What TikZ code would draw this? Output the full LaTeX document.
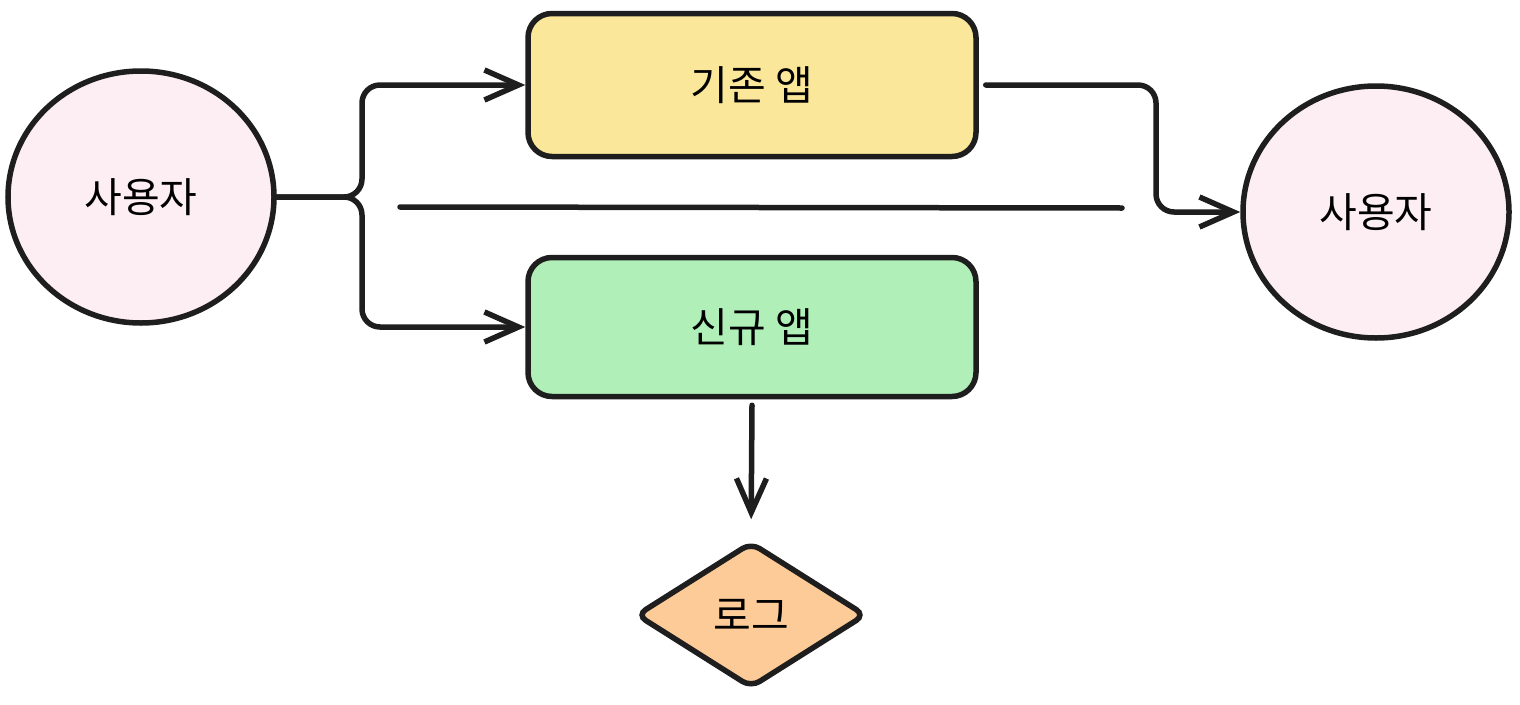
\documentclass[tikz,border=0pt]{standalone}
\usepackage{fontspec}
\setmainfont{Noto Sans CJK KR}
\usetikzlibrary{arrows.meta,shapes.geometric}
\definecolor{pinkfill}{HTML}{FDEEF4}
\definecolor{yellowfill}{HTML}{FBE79A}
\definecolor{greenfill}{HTML}{B0F0B8}
\definecolor{orangefill}{HTML}{FDCB98}
\definecolor{ink}{HTML}{1E1E1E}
\tikzset{
  lbl/.style={font=\fontsize{41}{48}\selectfont},
  user/.style={ellipse, draw=ink, line width=5.5pt, fill=pinkfill, minimum width=266pt, minimum height=252pt, inner sep=0pt, lbl},
  appbox/.style={rectangle, rounded corners=24pt, draw=ink, line width=5.5pt, minimum width=448pt, inner sep=0pt, lbl},
  logbox/.style={diamond, draw=ink, line width=5.5pt, fill=orangefill, minimum width=230pt, minimum height=146pt, inner sep=0pt, rounded corners=10pt, lbl},
  conn/.style={draw=ink, line width=5.5pt, line cap=round, rounded corners=18pt},
  arr/.style={conn, -{Straight Barb[length=34pt,width=30pt,line width=5.5pt]}},
}
\begin{document}
\begin{tikzpicture}[x=1pt,y=-1pt]
\useasboundingbox (0,0) rectangle (1520,704);
\node[user] (u1) at (141,197) {사용자};
\node[user] (u2) at (1376,212) {사용자};
\node[appbox, fill=yellowfill, minimum height=143pt] (old) at (752,85) {기존 앱};
\node[appbox, fill=greenfill, minimum height=139pt] (new) at (752,327) {신규 앱};
\node[logbox] (log) at (751,615) {로그};
\coordinate (split) at (362,197);
\coordinate (bend) at (1156,85);
\coordinate (m1) at (400,207);
\coordinate (m2) at (1122,208);
\draw[arr] (u1.east) -- (split) |- (old.west);
\draw[arr] (u1.east) -- (split) |- (new.west);
\draw[conn] (m1) -- (m2);
\draw[arr] ([xshift=7pt]old.east) -- (bend) |- (u2.west);
\draw[arr, shorten >=20pt] ([yshift=-6pt]new.south) -- (log.north);
\end{tikzpicture}
\end{document}
